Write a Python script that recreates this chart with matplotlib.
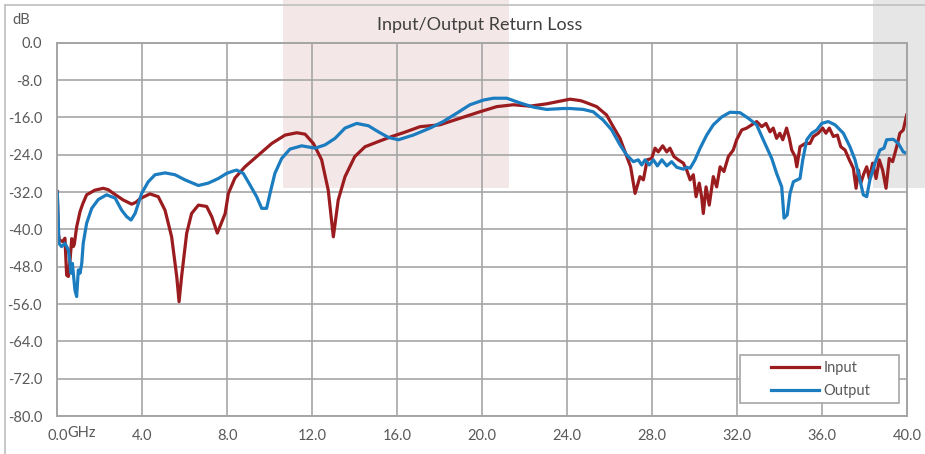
import matplotlib
matplotlib.use('Agg')
import matplotlib.pyplot as plt
from matplotlib.patches import Rectangle
from matplotlib.lines import Line2D

# values (GHz, dB)
input_freq = [0.0, 0.05, 0.1, 0.25, 0.36, 0.44, 0.52, 0.6, 0.68, 0.75, 0.8, 0.91, 1.07, 1.2, 1.38,
              1.77, 2.16, 2.4, 2.64, 3.1, 3.5, 3.7, 3.9, 4.36, 4.75, 5.07, 5.38, 5.62, 5.73, 5.85,
              6.09, 6.32, 6.64, 7.03, 7.27, 7.53, 7.74, 7.9, 8.05, 8.36, 8.83, 9.46, 10.09, 10.72,
              11.27, 11.66, 12.05, 12.44, 12.75, 12.99, 13.22, 13.54, 14.0, 14.48, 15.1, 15.74,
              16.28, 17.07, 18.0, 18.95, 19.89, 20.68, 21.46, 22.24, 23.03, 23.81, 24.13, 24.6,
              24.75, 25.38, 25.85, 26.16, 26.48, 26.8, 26.98, 27.19, 27.42, 27.58, 27.76, 27.97,
              28.13, 28.28, 28.49, 28.68, 28.83, 29.02, 29.22, 29.46, 29.62, 29.78, 29.93, 30.06,
              30.21, 30.32, 30.4, 30.53, 30.68, 30.87, 31.03, 31.19, 31.37, 31.58, 31.81, 31.97,
              32.21, 32.44, 32.68, 32.91, 33.15, 33.35, 33.54, 33.69, 33.85, 34.0, 34.14, 34.32,
              34.45, 34.56, 34.72, 34.8, 34.95, 35.19, 35.42, 35.58, 35.81, 36.02, 36.17, 36.33,
              36.52, 36.71, 36.87, 37.07, 37.27, 37.46, 37.59, 37.7, 37.81, 37.96, 38.09, 38.21,
              38.37, 38.53, 38.68, 38.84, 39.0, 39.15, 39.31, 39.5, 39.65, 39.81, 39.97]
input_db = [-31.9, -41.0, -42.3, -42.6, -41.9, -49.8, -50.1, -46.6, -42.0, -43.7, -43.2, -39.5, -36.2,
            -34.5, -32.6, -31.6, -31.2, -31.5, -32.3, -33.7, -34.6, -34.2, -33.4, -32.4, -33.0,
            -35.9, -41.6, -50.1, -55.5, -50.1, -40.8, -36.6, -34.8, -35.1, -37.3, -40.8, -38.4,
            -36.6, -32.3, -29.0, -26.6, -24.1, -21.6, -19.8, -19.3, -19.6, -21.6, -25.1, -31.6,
            -41.6, -33.7, -28.7, -24.4, -22.3, -21.2, -20.1, -19.3, -18.0, -17.6, -16.2, -14.8,
            -13.7, -13.3, -13.6, -13.1, -12.4, -12.1, -12.4, -12.6, -13.7, -15.5, -18.0, -20.5,
            -24.4, -26.6, -32.3, -28.7, -29.4, -25.1, -24.8, -22.6, -23.4, -22.1, -23.4, -22.6,
            -24.4, -25.1, -25.8, -27.3, -29.4, -28.3, -33.0, -30.1, -33.0, -36.6, -30.9, -34.8,
            -28.7, -30.9, -26.6, -27.6, -24.4, -23.0, -20.8, -18.7, -18.3, -17.6, -16.9, -18.0,
            -17.3, -19.1, -18.3, -20.5, -19.4, -20.8, -18.3, -20.5, -23.0, -24.4, -26.6, -22.3,
            -21.6, -21.6, -20.1, -19.4, -18.3, -19.4, -18.3, -20.1, -19.8, -22.3, -23.0, -25.1,
            -26.9, -31.2, -27.3, -30.1, -28.0, -26.6, -29.1, -25.8, -29.1, -25.1, -27.3, -31.2,
            -24.8, -25.5, -22.3, -19.4, -18.7, -15.5]

output_freq = [0.0, 0.08, 0.2, 0.36, 0.52, 0.6, 0.64, 0.71, 0.83, 0.91, 0.99, 1.07, 1.15, 1.22, 1.38,
               1.62, 1.93, 2.32, 2.72, 3.03, 3.27, 3.47, 3.66, 3.97, 4.28, 4.6, 5.07, 5.54, 6.01,
               6.64, 7.1, 7.58, 7.97, 8.28, 8.44, 8.75, 9.07, 9.38, 9.62, 9.85, 10.01, 10.24,
               10.56, 10.95, 11.5, 12.13, 12.6, 13.07, 13.54, 14.09, 14.64, 15.11, 15.58, 16.05,
               16.75, 17.54, 18.16, 18.8, 19.42, 20.05, 20.52, 21.15, 21.77, 22.4, 23.03, 23.81,
               24.13, 24.75, 25.22, 25.69, 26.09, 26.48, 26.8, 27.11, 27.34, 27.5, 27.66, 27.86,
               28.05, 28.24, 28.45, 28.68, 28.91, 29.15, 29.46, 29.62, 29.78, 30.01, 30.25, 30.56,
               30.87, 31.27, 31.66, 32.13, 32.52, 32.91, 33.22, 33.62, 33.85, 34.09, 34.2, 34.35,
               34.48, 34.64, 34.95, 35.08, 35.27, 35.5, 35.74, 35.97, 36.28, 36.6, 36.99, 37.3,
               37.54, 37.77, 37.93, 38.09, 38.24, 38.48, 38.71, 38.9, 39.03, 39.34, 39.58, 39.81,
               39.97]
output_db = [-32.1, -43.0, -43.7, -43.0, -44.4, -47.3, -49.4, -47.3, -53.0, -54.4, -48.7, -49.4, -47.3,
             -43.0, -38.7, -35.5, -33.6, -32.6, -33.3, -35.9, -37.3, -38.0, -36.6, -32.3, -29.8,
             -28.3, -27.9, -28.3, -29.4, -30.6, -30.1, -29.1, -28.0, -27.5, -27.3, -28.0, -30.5,
             -33.0, -35.5, -35.5, -32.3, -28.0, -24.8, -22.8, -22.1, -22.6, -21.9, -20.5, -18.3,
             -17.3, -17.8, -19.1, -20.3, -20.8, -19.8, -18.3, -16.9, -15.1, -13.3, -12.3, -11.9,
             -11.9, -12.9, -13.8, -14.3, -14.1, -14.1, -14.3, -14.8, -16.6, -18.7, -21.9, -24.1,
             -25.5, -25.1, -26.2, -25.1, -26.2, -25.1, -26.4, -25.1, -26.4, -25.5, -26.7, -27.1,
             -26.7, -26.9, -25.1, -22.6, -19.8, -17.6, -15.9, -14.9, -15.0, -16.2, -17.6, -20.8,
             -24.8, -28.0, -30.9, -37.6, -36.9, -32.3, -29.8, -29.1, -25.1, -20.8, -19.4, -18.7,
             -17.3, -16.9, -17.6, -19.4, -22.3, -25.1, -29.4, -32.6, -33.0, -29.4, -25.8, -23.0,
             -22.6, -20.8, -20.7, -21.6, -23.4, -23.7]

x_ticks = [0, 4, 8, 12, 16, 20, 24, 28, 32, 36, 40]
y_ticks = [0, -8, -16, -24, -32, -40, -48, -56, -64, -72, -80]

RED = '#9B1C1F'
BLUE = '#1B7CC0'
GRID = '#A5A5A5'
TEXT = '#595959'

plt.rcParams['font.family'] = ['Lato', 'DejaVu Sans']

W, H = 925, 454
fig = plt.figure(figsize=(W / 100, H / 100), dpi=100)


def px_rect(x0, y0, x1, y1, **kw):
    """Rectangle given in figure pixels (y measured from the top)."""
    return Rectangle((x0 / W, 1 - y1 / H), (x1 - x0) / W, (y1 - y0) / H,
                     transform=fig.transFigure, **kw)


# shaded bands behind the plot
fig.patches.append(px_rect(283, 0, 509.3, 188, facecolor='#F3E7E8', edgecolor='none', zorder=0))
fig.patches.append(px_rect(872.7, 0, W, 188, facecolor='#E6E6E6', edgecolor='none', zorder=0))

# outer chart border (left and top, the rest is cropped)
fig.lines.append(Line2D([5 / W, 5 / W], [0, 1 - 5 / H], transform=fig.transFigure,
                        color='#BFBFBF', lw=1.2, zorder=1))
fig.lines.append(Line2D([5 / W, 1], [1 - 5 / H, 1 - 5 / H], transform=fig.transFigure,
                        color='#BFBFBF', lw=1.2, zorder=1))

ax = fig.add_axes([57.3 / W, 1 - 416 / H, 850 / W, (416 - 42.7) / H])
ax.patch.set_alpha(0)
ax.set_zorder(2)

ax.plot(input_freq, input_db, color=RED, lw=2.3, label='Input', solid_joinstyle='round')
ax.plot(output_freq, output_db, color=BLUE, lw=2.3, label='Output', solid_joinstyle='round')

ax.set_xlim(0, 40)
ax.set_ylim(-80, 0)
ax.set_xticks(x_ticks)
ax.set_xticklabels([f'{v:.1f}' for v in x_ticks])
ax.set_yticks(y_ticks)
ax.set_yticklabels([f'{v:.1f}' for v in y_ticks])
ax.grid(True, color=GRID, lw=1.2)
ax.set_axisbelow(True)
for s in ax.spines.values():
    s.set_color(GRID)
    s.set_linewidth(1.4)
ax.tick_params(axis='both', length=0, labelsize=10.5, labelcolor=TEXT)
ax.tick_params(axis='y', pad=11)
ax.tick_params(axis='x', pad=9)

# legend box is wider than its content, so draw the frame separately
legend_frame = px_rect(740, 355, 899, 403, facecolor='white', edgecolor=GRID, lw=1.2, zorder=4.5)
ax.add_patch(legend_frame)
legend_frame.set_clip_on(False)
leg = ax.legend(loc='upper left', bbox_to_anchor=(771 / W, 1 - 361 / H), bbox_transform=fig.transFigure,
                fontsize=10.5, frameon=False, handlelength=3.3, handletextpad=0.3,
                labelspacing=0.65, borderpad=0, borderaxespad=0)
for t in leg.get_texts():
    t.set_color(TEXT)

fig.text(480 / W, 1 - 25 / H, 'Input/Output Return Loss', ha='center', va='center',
         fontsize=13, color='#404040')
fig.text(12 / W, 1 - 20 / H, 'dB', ha='left', va='center', fontsize=10.5, color=TEXT)
fig.text(67 / W, 1 - 433 / H, 'GHz', ha='left', va='center', fontsize=10.5, color=TEXT)

plt.savefig('out.png', dpi=100)
